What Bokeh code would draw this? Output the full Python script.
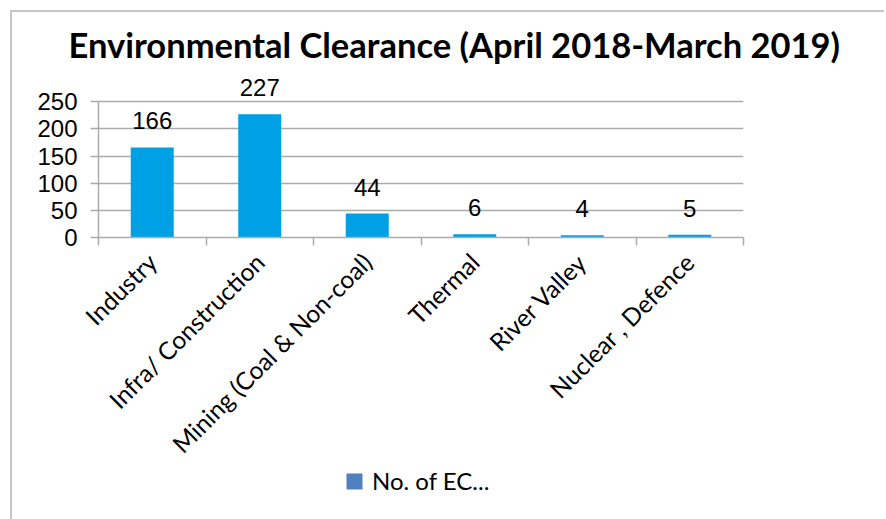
from bokeh.plotting import figure
from bokeh.layouts import column
from bokeh.models import (Range1d, FixedTicker, LabelSet, ColumnDataSource,
                          Legend, LegendItem, Title)
from bokeh.core.properties import value
from bokeh.embed import file_html
from bokeh.resources import INLINE

# ---- data ----
title_text = "Environmental Clearance (April 2018-March 2019)"
categories = ["Industry", "Infra/ Construction", "Mining (Coal & Non-coal)",
              "Thermal", "River Valley", "Nuclear , Defence"]
values = [166, 227, 44, 6, 4, 5]
y_ticks = [0, 50, 100, 150, 200, 250]
series_name = "No. of EC..."

BAR = "#00A1E4"
LEG = "#4F81BD"
GRID = "#ABABAB"
BORDER = "#C6C6C6"

xs = [i + 0.5 for i in range(len(categories))]
src = ColumnDataSource(dict(x=xs, top=values, lab=[str(v) for v in values]))

# ---------------- main chart ----------------
p = figure(width=872, height=459, output_backend="svg", toolbar_location=None,
           x_range=Range1d(0, len(categories)), y_range=Range1d(0, 304),
           min_border_left=86, min_border_right=141, min_border_top=60,
           min_border_bottom=233)
p.outline_line_color = None
p.background_fill_color = "white"
p.border_fill_color = "white"

p.vbar(x="x", top="top", width=0.4, source=src, fill_color=BAR, line_color=None)

# y axis
p.yaxis.ticker = FixedTicker(ticks=y_ticks)
p.yaxis.bounds = (0, 250)
p.yaxis.axis_line_color = GRID
p.yaxis.axis_line_width = 1.5
p.yaxis.major_tick_line_color = GRID
p.yaxis.major_tick_line_width = 1.5
p.yaxis.major_tick_out = 8
p.yaxis.major_tick_in = 0
p.yaxis.minor_tick_line_color = None
p.yaxis.major_label_text_font = "Liberation Sans"
p.yaxis.major_label_text_font_size = "24px"
p.yaxis.major_label_text_color = "black"
p.yaxis.major_label_standoff = 13

# x axis (category boundaries as ticks, names centred)
p.xaxis.ticker = FixedTicker(ticks=xs, minor_ticks=list(range(len(categories) + 1)))
p.xaxis.major_label_overrides = {x: c for x, c in zip(xs, categories)}
p.xaxis.major_tick_line_color = None
p.xaxis.minor_tick_line_color = GRID
p.xaxis.minor_tick_line_width = 1.5
p.xaxis.minor_tick_out = 8
p.xaxis.minor_tick_in = 0
p.xaxis.axis_line_color = GRID
p.xaxis.axis_line_width = 1.5
p.xaxis.major_label_orientation = 0.785
p.xaxis.major_label_text_font = "Lato"
p.xaxis.major_label_text_font_size = "24.5px"
p.xaxis.major_label_text_color = "black"
p.xaxis.major_label_standoff = 12

p.xgrid.grid_line_color = None
p.ygrid.ticker = FixedTicker(ticks=y_ticks)
p.ygrid.grid_line_color = GRID
p.ygrid.grid_line_width = 1.5

# data labels
labels = LabelSet(x="x", y="top", text="lab", source=src, text_align="center",
                  text_baseline="alphabetic", y_offset=18,
                  text_font=value("Liberation Sans"), text_font_size="24px",
                  text_color="black")
p.add_layout(labels)

# title
p.add_layout(Title(text=title_text, align="left", offset=-30, standoff=16,
                   text_font="Lato", text_font_style="bold", text_font_size="34.5px",
                   text_color="black"), "above")

# ---------------- legend strip ----------------
q = figure(width=872, height=48, output_backend="svg", toolbar_location=None,
           x_axis_type=None, y_axis_type=None,
           x_range=Range1d(0, 1), y_range=Range1d(0, 1),
           min_border_left=0, min_border_right=0, min_border_top=0,
           min_border_bottom=0)
q.outline_line_color = None
q.xgrid.grid_line_color = None
q.ygrid.grid_line_color = None
q.background_fill_color = "white"
q.border_fill_color = "white"

# Excel shows the series swatch in its default blue
lr = q.vbar(x="x", top="top", width=0.4, source=src, fill_color=LEG,
            line_color=None, visible=False)
leg = Legend(items=[LegendItem(label=series_name, renderers=[lr])],
             location=(246, 24), orientation="horizontal",
             glyph_width=20, glyph_height=20, label_standoff=8,
             padding=0, margin=0, border_line_color=None, background_fill_alpha=0,
             inactive_fill_alpha=0,
             label_text_font="Lato", label_text_font_size="24px",
             label_text_line_height=1.0, label_height=20,
             label_text_color="black")
q.add_layout(leg, "center")

layout = column(p, q, spacing=0,
                styles={"border-top": f"2px solid {BORDER}",
                        "border-left": f"2px solid {BORDER}",
                        "margin-left": "10px", "margin-top": "10px"})

open("out.html", "w").write(file_html(layout, INLINE))
